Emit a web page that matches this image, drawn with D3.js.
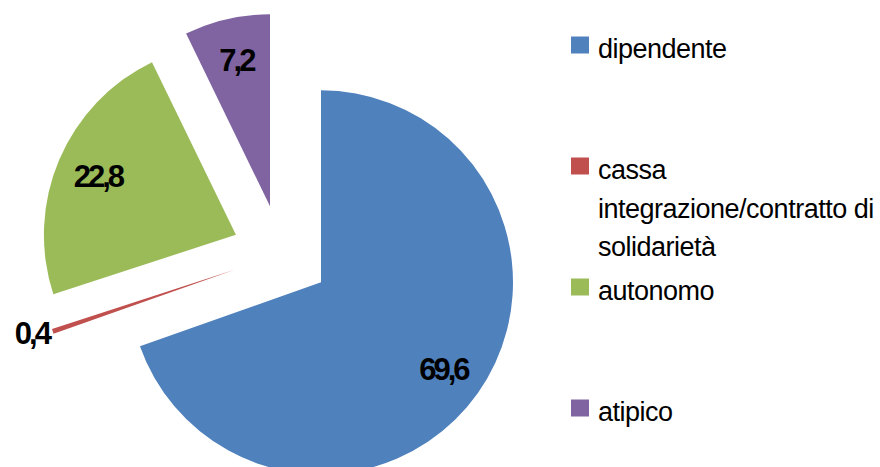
<!DOCTYPE html>
<html>
<head>
<meta charset="utf-8">
<script src="https://cdn.jsdelivr.net/npm/d3@7"></script>
<style>
  body { margin: 0; background: #fff; }
  svg { display: block; }
  .lbl { font-family: 'Liberation Sans', Arial, sans-serif; font-weight: bold; font-size: 31px; letter-spacing: -3px; fill: #000; }
  .leg { font-family: 'Liberation Sans', Arial, sans-serif; font-size: 27px; letter-spacing: -0.5px; fill: #000; }
</style>
</head>
<body>
<div id="chart"></div>
<script>
const width = 880;
const height = 467;

const categories = ['dipendente', 'cassa integrazione/contratto di solidarietà', 'autonomo', 'atipico'];
const values = [69.6, 0.4, 22.8, 7.2];
const labels = ['69,6', '0,4', '22,8', '7,2'];
const colors = ['#4F81BD', '#C0504D', '#9BBB59', '#8064A2'];

const cx = 281;
const cy = 254;
const radius = 192;
const explode = 49;
const labelR = 150;

const svg = d3
  .select('#chart')
  .append('svg')
  .attr('width', width)
  .attr('height', height);

const pie = d3.pie().sort(null).value((d) => d.value);
const arc = d3.arc().innerRadius(0).outerRadius(radius);

const slices = pie(categories.map((c, i) => ({ name: c, value: values[i], label: labels[i], color: colors[i] })));

// direction of a slice bisector (0 = up, clockwise)
function dir(d) {
  const a = (d.startAngle + d.endAngle) / 2;
  return [Math.sin(a), -Math.cos(a)];
}

const g = svg.append('g').attr('transform', 'translate(' + cx + ',' + cy + ')');

const sliceG = g
  .selectAll('g.slice')
  .data(slices)
  .enter()
  .append('g')
  .attr('class', 'slice')
  .attr('transform', (d) => {
    const [dx, dy] = dir(d);
    return 'translate(' + dx * explode + ',' + dy * explode + ')';
  });

sliceG
  .append('path')
  .attr('d', arc)
  .attr('fill', (d) => d.data.color);

sliceG
  .append('text')
  .attr('class', 'lbl')
  .attr('x', (d) => {
    const [dx] = dir(d);
    return d.value < 2 ? dx * (radius + 4) : dx * labelR;
  })
  .attr('y', (d) => {
    const [, dy] = dir(d);
    return (d.value < 2 ? dy * (radius + 4) : dy * labelR) + 11;
  })
  .attr('text-anchor', (d) => (d.value < 2 ? 'end' : 'middle'))
  .text((d) => d.data.label);

// legend
const legendY = d3.scalePoint().domain(categories).range([45, 408]);
const legendX = 571;
const maxTextW = 285;
const lineH = 38.5;

const leg = svg
  .selectAll('g.legend')
  .data(categories)
  .enter()
  .append('g')
  .attr('class', 'legend')
  .attr('transform', (d) => 'translate(' + legendX + ',' + legendY(d) + ')');

leg
  .append('rect')
  .attr('x', 0)
  .attr('y', -8.5)
  .attr('width', 18)
  .attr('height', 17)
  .attr('fill', (d, i) => colors[i]);

leg.each(function (d) {
  const t = d3.select(this).append('text').attr('class', 'leg').attr('x', 27).attr('y', 13);
  const words = d.split(' ');
  let lines = [];
  let cur = [];
  const probe = t.append('tspan');
  words.forEach((w) => {
    const test = cur.concat([w]).join(' ');
    probe.text(test);
    if (probe.node().getComputedTextLength() > maxTextW && cur.length) {
      lines.push(cur.join(' '));
      cur = [w];
    } else {
      cur.push(w);
    }
  });
  lines.push(cur.join(' '));
  probe.remove();
  lines.forEach((l, i) => {
    t.append('tspan').attr('x', 27).attr('y', 13 + i * lineH).text(l);
  });
});
</script>
</body>
</html>
